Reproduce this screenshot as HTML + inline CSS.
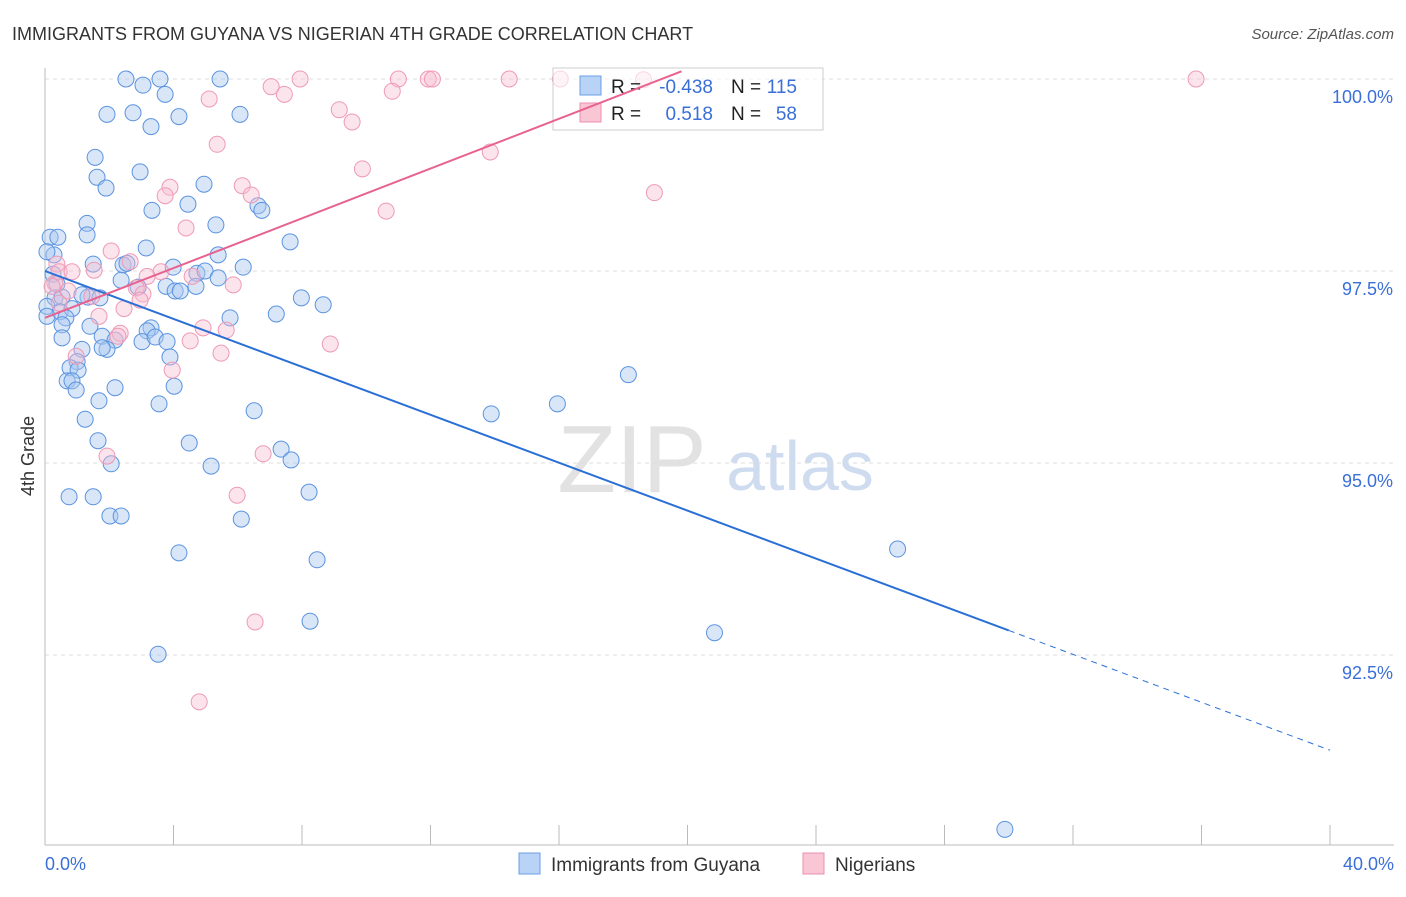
<!DOCTYPE html>
<html><head><meta charset="utf-8"><style>
body{margin:0;background:#fff;font-family:"Liberation Sans",sans-serif;}
svg text{font-family:"Liberation Sans",sans-serif;}
</style></head><body>
<svg id="chart" width="1406" height="892">
<text x="12" y="40" font-size="18" fill="#333">IMMIGRANTS FROM GUYANA VS NIGERIAN 4TH GRADE CORRELATION CHART</text>
<text x="1394" y="39" font-size="15" fill="#555" font-style="italic" text-anchor="end">Source: ZipAtlas.com</text>
<g>
<text x="632" y="492" font-size="96" fill="#e2e2e2" font-family="Liberation Serif" text-anchor="middle">ZIP</text>
<text x="800" y="490" font-size="70" fill="#cfdcf0" text-anchor="middle">atlas</text>
</g>
<g id="grid"></g><g id="axes"></g><g id="pts"></g>
<g>
<rect x="553" y="68" width="270" height="62" fill="#fff" fill-opacity="0.6" stroke="#ccc"/>
<rect x="580" y="76" width="21" height="19" fill="#b8d3f5" stroke="#6a9fe6"/>
<rect x="580" y="103" width="21" height="19" fill="#f9c6d6" stroke="#ec8fae"/>
<text x="611" y="93" font-size="19" fill="#222">R =</text><text x="713" y="93" font-size="19" fill="#3a6fd8" text-anchor="end">-0.438</text>
<text x="731" y="93" font-size="19" fill="#222">N =</text><text x="797" y="93" font-size="19" fill="#3a6fd8" text-anchor="end">115</text>
<text x="611" y="120" font-size="19" fill="#222">R =</text><text x="713" y="120" font-size="19" fill="#3a6fd8" text-anchor="end">0.518</text>
<text x="731" y="120" font-size="19" fill="#222">N =</text><text x="797" y="120" font-size="19" fill="#3a6fd8" text-anchor="end">58</text>
</g>
<g id="trends"></g>
<text transform="translate(34,456) rotate(-90)" font-size="18" fill="#333" text-anchor="middle">4th Grade</text>
<text x="45" y="870" font-size="18" fill="#3a6fd8">0.0%</text>
<text x="1394" y="870" font-size="18" fill="#3a6fd8" text-anchor="end">40.0%</text>
<g>
<rect x="519" y="853" width="21" height="21" fill="#b8d3f5" stroke="#6a9fe6"/>
<text x="551" y="871" font-size="19" fill="#333">Immigrants from Guyana</text>
<rect x="803" y="853" width="21" height="21" fill="#f9c6d6" stroke="#ec8fae"/>
<text x="835" y="871" font-size="19" fill="#333">Nigerians</text>
</g>
</svg>
<script>
const blueX=[2.52,3.58,5.45,3.05,3.74,1.93,2.74,4.17,6.07,3.30,1.56,1.62,1.90,2.96,4.95,3.33,4.45,5.32,6.63,6.75,1.31,1.31,0.16,0.40,0.28,3.15,5.39,7.63,0.06,1.50,2.43,2.55,3.99,6.17,4.73,4.98,0.25,5.39,2.37,0.37,2.90,4.70,3.77,4.05,4.21,1.34,1.71,1.15,0.31,0.53,0.06,0.47,0.84,7.98,8.66,0.06,0.65,1.40,5.76,0.53,7.20,3.30,3.18,1.78,2.18,3.02,3.43,3.80,0.53,1.15,1.93,1.78,3.89,1.00,0.78,1.03,0.69,0.84,0.97,2.18,4.02,18.16,1.68,3.55,15.95,1.25,6.51,13.89,1.65,4.49,7.35,7.66,2.06,5.17,0.75,1.50,8.22,2.02,2.37,6.11,4.17,8.47,26.54,3.52,8.25,20.84,29.88];
const blueY=[100,100,100,99.92,99.80,99.54,99.56,99.51,99.54,99.38,98.98,98.72,98.58,98.79,98.63,98.29,98.37,98.10,98.35,98.29,98.12,97.97,97.94,97.94,97.71,97.80,97.71,97.88,97.75,97.59,97.58,97.60,97.55,97.55,97.47,97.50,97.46,97.41,97.38,97.33,97.29,97.30,97.30,97.24,97.24,97.16,97.15,97.19,97.15,97.16,97.04,96.97,97.01,97.15,97.06,96.91,96.89,96.78,96.89,96.80,96.94,96.76,96.72,96.65,96.60,96.58,96.64,96.58,96.63,96.48,96.48,96.50,96.38,96.32,96.24,96.21,96.07,96.07,95.95,95.98,96.00,96.15,95.81,95.77,95.77,95.57,95.68,95.64,95.29,95.26,95.18,95.04,94.99,94.96,94.56,94.56,94.62,94.31,94.31,94.27,93.83,93.74,93.88,92.51,92.94,92.79,90.23];
const pinkX=[16.04,7.94,11.00,11.93,12.06,14.45,18.63,7.04,7.45,10.81,5.11,9.16,9.56,5.36,13.86,9.88,18.97,3.89,3.74,6.14,6.42,10.62,4.39,2.06,0.37,0.44,0.84,1.53,2.65,3.61,3.18,4.58,5.86,0.31,0.72,1.46,0.44,2.84,3.05,2.46,1.68,2.34,2.27,4.92,5.64,4.52,5.48,8.88,0.97,3.96,1.93,6.79,5.98,6.54,4.80,35.83,0.22,2.96];
const pinkY=[100,100,100,100,100,100,99.99,99.90,99.80,99.84,99.74,99.60,99.44,99.15,99.05,98.83,98.52,98.59,98.48,98.61,98.49,98.28,98.06,97.76,97.59,97.49,97.49,97.51,97.62,97.49,97.43,97.43,97.32,97.34,97.24,97.17,97.08,97.28,97.20,97.01,96.91,96.69,96.65,96.76,96.73,96.59,96.43,96.55,96.39,96.21,95.09,95.12,94.58,92.93,91.89,100,97.30,97.12];
const yTicks=[100,97.5,95,92.5];
const yTickLabels=["100.0%","97.5%","95.0%","92.5%"];
const xTicks=[0,4,8,12,16,20,24,28,32,36,40];
const blueTrend=[97.5,-0.156];
const pinkTrend=[96.89,0.162];
const NS="http://www.w3.org/2000/svg";
const sx=v=>45+v*32.125;
const sy=v=>79+(100-v)*76.8;
function mk(tag,attrs,parent){const e=document.createElementNS(NS,tag);for(const k in attrs)e.setAttribute(k,attrs[k]);document.getElementById(parent).appendChild(e);return e;}
yTicks.forEach((t,i)=>{
 const l=mk('line',{x1:45,x2:1394,y1:sy(t),y2:sy(t),stroke:'#ddd','stroke-dasharray':'4,4'},'grid');
 
 
 const tx=mk('text',{x:1393,y:sy(t)+24,'font-size':18,fill:'#3a6fd8','text-anchor':'end'},'grid');
 tx.textContent=yTickLabels[i];
 
 
});
const ax=mk('line',{x1:45,x2:45,y1:68,y2:845,stroke:'#bbb'},'axes');


const bx=mk('line',{x1:45,x2:1394,y1:845,y2:845,stroke:'#bbb'},'axes');


xTicks.forEach(t=>{
 const l=mk('line',{x1:sx(t),x2:sx(t),y1:825,y2:845,stroke:'#bbb'},'axes');
 
 
});
blueX.forEach((x,i)=>{
 const c=mk('circle',{cx:sx(x),cy:sy(blueY[i]),r:8,fill:'#a9c8f0','fill-opacity':0.45,stroke:'#5b93e0','stroke-width':1},'pts');
 
 
});
pinkX.forEach((x,i)=>{
 const c=mk('circle',{cx:sx(x),cy:sy(pinkY[i]),r:8,fill:'#f7bcd0','fill-opacity':0.4,stroke:'#ee9ab6','stroke-width':1},'pts');
 
 
});
const bt=v=>blueTrend[0]+blueTrend[1]*v, pt=v=>pinkTrend[0]+pinkTrend[1]*v;
const b1=mk('line',{x1:sx(0),y1:sy(bt(0)),x2:sx(30),y2:sy(bt(30)),stroke:'#2a6fd6','stroke-width':2},'trends');


const b2=mk('line',{x1:sx(30),y1:sy(bt(30)),x2:sx(40),y2:sy(bt(40)),stroke:'#2a6fd6','stroke-width':1,'stroke-dasharray':'6,5'},'trends');


const xe=(100.1-pinkTrend[0])/pinkTrend[1];
const p1=mk('line',{x1:sx(0),y1:sy(pt(0)),x2:sx(xe),y2:sy(pt(xe)),stroke:'#e8628f','stroke-width':2},'trends');


</script>
</body></html>
